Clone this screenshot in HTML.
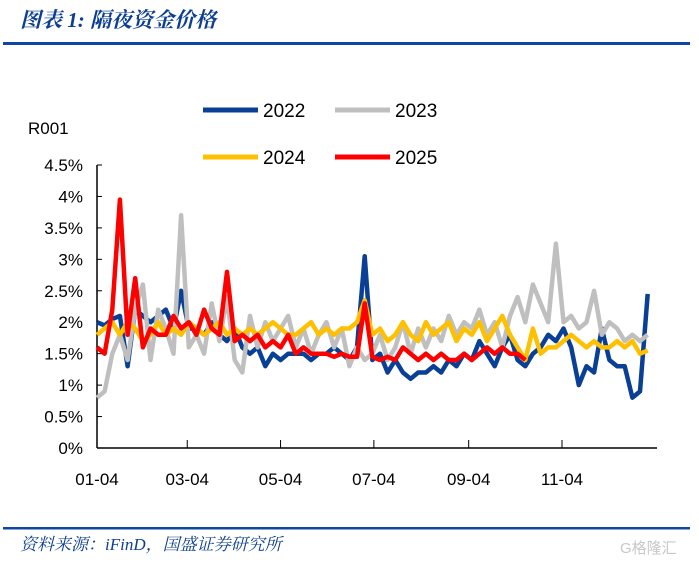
<!DOCTYPE html>
<html><head><meta charset="utf-8"><style>
body{margin:0;background:#fff;width:699px;height:562px;overflow:hidden;font-family:"Liberation Sans","Noto Sans CJK SC",sans-serif}
</style></head><body>
<svg width="699" height="562" xmlns="http://www.w3.org/2000/svg">
<text x="20" y="27" font-size="21" font-weight="bold" font-style="italic" fill="#0d3f91" font-family="'Liberation Serif','Noto Serif CJK SC',serif">图表 1:  隔夜资金价格</text>
<rect x="3" y="42" width="687" height="3" fill="#0d47a1"/>
<rect x="3" y="527" width="687" height="2.5" fill="#0d47a1"/>
<text x="20" y="550" font-size="17" font-style="italic" fill="#0d3f91" font-family="'Liberation Serif','Noto Serif CJK SC',serif">资料来源：iFinD，国盛证券研究所</text>
<text x="620" y="553" font-size="15" fill="#c8c8c8">G格隆汇</text>
<text x="28" y="134" font-size="17" fill="#000">R001</text>
<g id="legend"></g>
<g id="axes"></g>
<g id="series"></g>
</svg>
<script>
const startDay = 3, stepDays = 5;
const xTickLabels = ["01-04","03-04","05-04","07-04","09-04","11-04"];
const xTickDays = [3,62,123,184,246,307];
const yTicks = [0,0.5,1,1.5,2,2.5,3,3.5,4,4.5];
const yTickLabels = ["0%","0.5%","1%","1.5%","2%","2.5%","3%","3.5%","4%","4.5%"];
const seriesNames = ["2022","2023","2024","2025"];
const seriesColors = ["#0a3f96","#bfbfbf","#ffc000","#ff0000"];
const s2022 = [2.0,1.95,2.05,2.1,1.3,2.2,2.1,2.0,2.1,2.2,1.9,2.5,1.9,1.9,1.8,2.0,1.8,1.7,1.9,1.6,1.5,1.6,1.3,1.5,1.4,1.5,1.5,1.5,1.4,1.5,1.5,1.6,1.5,1.4,1.6,3.05,1.4,1.5,1.2,1.4,1.2,1.1,1.2,1.2,1.3,1.2,1.4,1.3,1.5,1.4,1.7,1.5,1.3,1.6,1.8,1.4,1.3,1.5,1.6,1.8,1.7,1.9,1.6,1.0,1.3,1.2,1.9,1.4,1.3,1.3,0.8,0.9,2.45];
const s2023 = [0.8,0.9,1.5,1.8,1.4,2.2,2.6,1.4,2.2,1.9,1.5,3.7,1.6,1.8,1.5,2.3,1.7,2.4,1.4,1.2,2.1,1.6,2.0,1.7,1.9,2.1,1.6,1.9,1.5,1.8,2.0,1.6,1.9,1.3,1.6,1.4,1.5,1.8,1.4,1.6,2.0,1.5,1.9,1.6,1.9,1.7,2.1,1.8,2.0,1.9,2.2,1.8,2.0,1.6,2.1,2.4,2.0,2.6,2.3,2.0,3.25,2.0,2.1,1.9,2.0,2.5,1.8,2.0,1.9,1.7,1.8,1.7,1.8];
const s2024 = [1.8,1.9,2.0,1.8,2.0,1.9,1.7,1.8,2.0,1.8,1.9,1.8,2.0,1.9,1.8,1.9,2.0,1.8,1.9,1.8,1.9,1.8,1.9,2.0,1.9,1.8,1.8,1.9,2.0,1.8,1.9,1.8,1.9,1.9,2.0,2.35,1.8,1.9,1.7,1.8,2.0,1.8,1.7,2.0,1.8,1.9,2.0,1.7,1.9,1.8,2.0,1.7,1.9,2.1,1.8,1.6,1.4,1.9,1.5,1.6,1.6,1.7,1.8,1.7,1.6,1.7,1.6,1.6,1.7,1.6,1.7,1.5,1.55];
const s2025 = [1.6,1.5,2.2,3.95,1.8,2.7,1.6,1.9,1.8,1.8,2.1,1.9,2.0,1.8,2.2,1.9,1.8,2.8,1.7,1.8,1.7,1.8,1.6,1.7,1.6,1.8,1.5,1.6,1.5,1.5,1.5,1.45,1.5,1.45,1.45,2.3,1.45,1.4,1.45,1.4,1.6,1.5,1.4,1.5,1.4,1.5,1.4,1.4,1.5,1.4,1.5,1.6,1.5,1.6,1.5,1.5,1.4];
const allSeries = [s2022,s2023,s2024,s2025];

const NS="http://www.w3.org/2000/svg";
const X0=97,X1=657,Y0=448,Ytop=165;
function xScale(d){return 97+(d-3)*(465/304);}
function yScale(v){return Y0-v*(Y0-Ytop)/4.5;}
function mk(tag,attrs,parent){const e=document.createElementNS(NS,tag);for(const k in attrs)e.setAttribute(k,attrs[k]);parent.appendChild(e);return e;}
const axes=document.getElementById('axes');
let a=mk('line',{x1:X0,y1:Ytop,x2:X0,y2:Y0,stroke:'#000','stroke-width':1.5},axes);


a=mk('line',{x1:X0,y1:Y0,x2:X1,y2:Y0,stroke:'#000','stroke-width':1.5},axes);


yTicks.forEach((v,i)=>{
  const t=mk('line',{x1:X0,y1:yScale(v),x2:X0+5,y2:yScale(v),stroke:'#000','stroke-width':1},axes);
  
  
  const l=mk('text',{x:83,y:yScale(v)+6,'text-anchor':'end','font-size':17},axes);
  l.textContent=yTickLabels[i];
  
  
});
xTickDays.forEach((d,i)=>{
  if(i>0){const t=mk('line',{x1:xScale(d),y1:Y0,x2:xScale(d),y2:Y0-8,stroke:'#000','stroke-width':1},axes);
  
  }
  const l=mk('text',{x:xScale(d),y:485,'text-anchor':'middle','font-size':17},axes);
  l.textContent=xTickLabels[i];
  
  
});
const ser=document.getElementById('series');
allSeries.forEach((s,k)=>{
  const pts=s.map((v,i)=>xScale(startDay+i*stepDays).toFixed(1)+','+yScale(v).toFixed(1)).join(' ');
  const p=mk('polyline',{points:pts,fill:'none',stroke:seriesColors[k],'stroke-width':4.5,'stroke-linejoin':'round'},ser);
  
  
});
const leg=document.getElementById('legend');
const legPos=[[203,110],[335,110],[203,157],[335,157]];
seriesNames.forEach((n,k)=>{
  const [lx,ly]=legPos[k];
  const l=mk('line',{x1:lx,y1:ly,x2:lx+55,y2:ly,stroke:seriesColors[k],'stroke-width':5},leg);
  
  
  const t=mk('text',{x:lx+60,y:ly+7,'font-size':19},leg);
  t.textContent=n;
  
  
});
</script>
</body></html>
